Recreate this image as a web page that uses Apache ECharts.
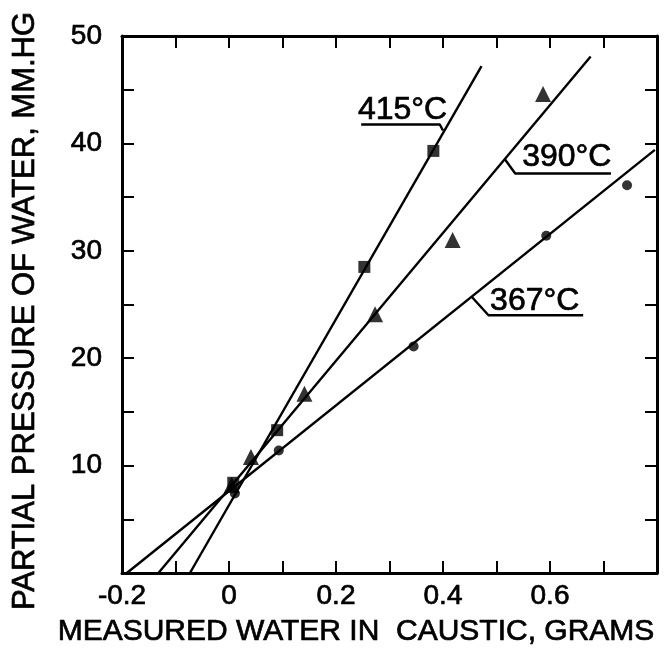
<!DOCTYPE html>
<html><head><meta charset="utf-8">
<script src="https://cdn.jsdelivr.net/npm/echarts@6/dist/echarts.min.js"></script>
<style>html,body{margin:0;padding:0;background:#fff}#c{width:669px;height:669px}</style>
</head><body><div id="c"></div>
<script>
// ---- data ----
const xTickLabels = [-0.2, 0, 0.2, 0.4, 0.6];
const yTickLabels = [10, 20, 30, 40, 50];
const pts415 = [[0.008, 8.4], [0.090, 13.3], [0.253, 28.5], [0.382, 39.3]];
const pts390 = [[0.005, 8.2], [0.041, 10.8], [0.141, 16.7], [0.273, 24.1], [0.418, 31.0], [0.587, 44.6]];
const pts367 = [[0.011, 7.4], [0.093, 11.4], [0.345, 21.1], [0.593, 31.4], [0.744, 36.1]];
const fit415 = [[-0.073, 0], [0.472, 47.2]];
const fit390 = [[-0.132, 0], [0.676, 48.1]];
const fit367 = [[-0.191, 0], [0.796, 39.4]];
const tempLabels = ['415°C', '390°C', '367°C'];
const leader415 = [[0.247, 41.76], [0.394, 41.76], [0.400, 41.2]];
const leader390 = [[0.714, 37.2], [0.535, 37.2], [0.516, 38.5]];
const leader367 = [[0.662, 24.0], [0.485, 24.0], [0.454, 25.7]];
const labelAnchors = [[0.241, 43.06], [0.548, 38.69], [0.488, 25.33]];
const xTitle = 'MEASURED WATER IN  CAUSTIC, GRAMS';
const yTitle = 'PARTIAL PRESSURE OF WATER, MM.HG';

// ---- chart ----
const FONT = 'Liberation Sans';
const chart = echarts.init(document.getElementById('c'), null, {renderer: 'canvas'});
const frameLine = {show: true, onZero: false, lineStyle: {color: '#000', width: 3}};
const tick = {show: true, inside: true, length: 12, lineStyle: {color: '#000', width: 2}};
function fmtX(v) {
  const r = Math.round(v * 10) / 10;
  return xTickLabels.some(t => Math.abs(t - r) < 1e-9) ? (r === 0 ? '0' : String(r)) : '';
}
function fmtY(v) {
  const r = Math.round(v);
  return yTickLabels.indexOf(r) >= 0 ? String(r) : '';
}
const lineSeries = (data, w) => ({
  type: 'line', data: data, symbol: 'none', silent: true, animation: false,
  lineStyle: {color: '#000', width: w}, z: 3
});
const scatter = (data, sym, size) => ({
  type: 'scatter', data: data, symbol: sym, symbolSize: size, animation: false,
  itemStyle: {color: '#000'}, z: 5
});
const labelStyle = {color: '#000', fontFamily: FONT, fontSize: 28, textBorderColor: '#000', textBorderWidth: 0.7};
chart.setOption({
  animation: false,
  backgroundColor: '#fff',
  grid: {left: 122, top: 36, width: 535, height: 537, containLabel: false},
  xAxis: [
    {type: 'value', position: 'bottom', min: -0.2, max: 0.8, interval: 0.1,
     axisLine: frameLine, axisTick: tick, splitLine: {show: false},
     axisLabel: Object.assign({formatter: fmtX, margin: 9}, labelStyle)},
    {type: 'value', position: 'top', min: -0.2, max: 0.8, interval: 0.1,
     axisLine: frameLine, axisTick: tick, splitLine: {show: false}, axisLabel: {show: false}}
  ],
  yAxis: [
    {type: 'value', position: 'left', min: 0, max: 50, interval: 5,
     axisLine: frameLine, axisTick: tick, splitLine: {show: false},
     axisLabel: Object.assign({formatter: fmtY, margin: 20}, labelStyle)},
    {type: 'value', position: 'right', min: 0, max: 50, interval: 5,
     axisLine: frameLine, axisTick: tick, splitLine: {show: false}, axisLabel: {show: false}}
  ],
  series: [
    lineSeries(fit415, 2.4), lineSeries(fit390, 2.4), lineSeries(fit367, 2.4),
    lineSeries(leader415, 2.4), lineSeries(leader390, 2.4), lineSeries(leader367, 2.4),
    scatter(pts415, 'rect', 12),
    scatter(pts390, 'triangle', 16),
    scatter(pts367, 'circle', 10)
  ]
});

const txt = (size) => ({fill: '#000', font: size + 'px "' + FONT + '"', stroke: '#000', lineWidth: 0.7});
const graphics = [
  {type: 'text', x: 356, y: 632, style: Object.assign({text: xTitle, align: 'center', verticalAlign: 'middle'}, txt(30))},
  {type: 'text', x: 25, y: 311, rotation: Math.PI / 2, style: Object.assign({text: yTitle, align: 'center', verticalAlign: 'middle'}, txt(31))}
];
labelAnchors.forEach((a, i) => {
  const p = chart.convertToPixel({xAxisIndex: 0, yAxisIndex: 0}, a);
  graphics.push({type: 'text', x: p[0], y: p[1], z: 10,
    style: Object.assign({text: tempLabels[i], align: 'left', verticalAlign: 'middle'}, txt(32))});
});
chart.setOption({graphic: graphics});
</script>
</body></html>
